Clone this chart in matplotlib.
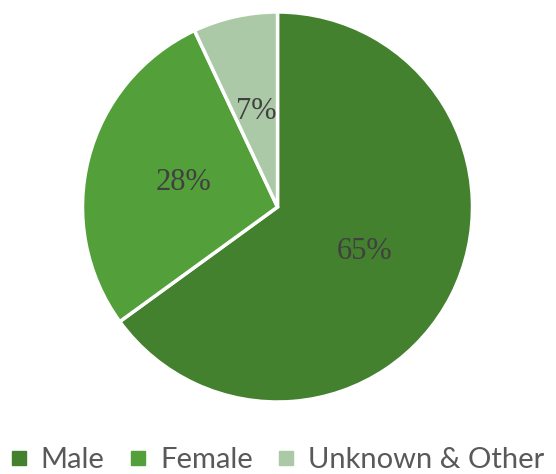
import matplotlib.pyplot as plt
from matplotlib.lines import Line2D

labels = ['Male', 'Female', 'Unknown & Other']
shares = [65, 28, 7]
colors = ['#43812f', '#53a03a', '#abc9a6']

fig = plt.figure(figsize=(5.56, 4.74), dpi=100)
ax = fig.add_axes([82.5 / 556, 72 / 474, 390 / 556, 390 / 474])

wedges, texts, autotexts = ax.pie(
    shares, colors=colors, startangle=90, counterclock=False,
    autopct='%1.0f%%', pctdistance=0.5,
    wedgeprops=dict(edgecolor='white', linewidth=2.5),
    textprops=dict(family='Liberation Serif', fontsize=22, color='#404040'))
ax.set_aspect('equal')
ax.set_xlim(-1, 1)
ax.set_ylim(-1, 1)

handles = [Line2D([], [], marker='s', linestyle='', markersize=9.5,
                  markerfacecolor=c, markeredgecolor=c) for c in colors]
fig.legend(handles, labels, loc='center', bbox_to_anchor=(0.5, 1 - 460 / 474),
           ncol=3, frameon=False, handlelength=0.5, handletextpad=0.5,
           columnspacing=0.9, borderpad=0,
           prop=dict(family='Lato', size=21), labelcolor='#595959')

fig.savefig('out.png', dpi=100)
